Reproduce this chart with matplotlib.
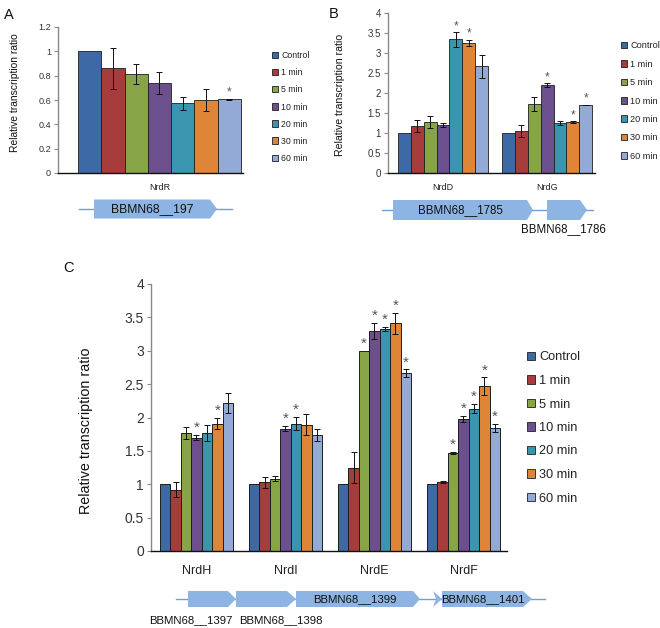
import numpy as np
import matplotlib
matplotlib.use("Agg")
import matplotlib.pyplot as plt
from matplotlib.patches import Polygon
from matplotlib.ticker import FuncFormatter

plt.rcParams['font.family'] = ['Liberation Sans', 'DejaVu Sans']

# ---------------- data ----------------
conditions = ['Control', '1 min', '5 min', '10 min', '20 min', '30 min', '60 min']
colors = ['#3d6aa5', '#a63c3b', '#87a447', '#6c4f8d', '#3a96ae', '#de8537', '#94aad6']

a_genes = ['NrdR']
a_vals = [[1.00, 0.86, 0.815, 0.74, 0.572, 0.598, 0.605]]
a_errs = [[0.00, 0.17, 0.085, 0.09, 0.053, 0.09, 0.005]]
a_sig = [[0, 0, 0, 0, 0, 0, 1]]
a_yticks = [0, 0.2, 0.4, 0.6, 0.8, 1.0, 1.2]

b_genes = ['NrdD', 'NrdG']
b_vals = [[1.00, 1.17, 1.27, 1.20, 3.34, 3.25, 2.67],
          [1.00, 1.05, 1.73, 2.19, 1.24, 1.27, 1.70]]
b_errs = [[0.00, 0.15, 0.15, 0.05, 0.18, 0.08, 0.29],
          [0.00, 0.15, 0.18, 0.05, 0.05, 0.02, 0.01]]
b_sig = [[0, 0, 0, 0, 1, 1, 0],
         [0, 0, 0, 1, 0, 1, 1]]
b_yticks = [0, 0.5, 1, 1.5, 2, 2.5, 3, 3.5, 4]

c_genes = ['NrdH', 'NrdI', 'NrdE', 'NrdF']
c_vals = [[1.00, 0.92, 1.77, 1.70, 1.77, 1.91, 2.21],
          [1.00, 1.03, 1.085, 1.835, 1.91, 1.895, 1.735],
          [1.00, 1.25, 3.00, 3.295, 3.325, 3.41, 2.66],
          [1.00, 1.035, 1.47, 1.98, 2.13, 2.47, 1.84]]
c_errs = [[0.00, 0.11, 0.09, 0.04, 0.12, 0.08, 0.15],
          [0.00, 0.08, 0.04, 0.04, 0.10, 0.15, 0.09],
          [0.00, 0.23, 0.00, 0.12, 0.03, 0.16, 0.06],
          [0.00, 0.01, 0.01, 0.04, 0.07, 0.13, 0.06]]
c_sig = [[0, 0, 0, 1, 0, 1, 0],
         [0, 0, 0, 1, 1, 0, 0],
         [0, 0, 1, 1, 1, 1, 1],
         [0, 0, 1, 1, 1, 1, 1]]
c_yticks = [0, 0.5, 1, 1.5, 2, 2.5, 3, 3.5, 4]

# gene maps (pixel layout of the operon diagrams): (start, body_end, tip, label)
a_operon = [(94, 210, 217, 'BBMN68__197')]
b_operon = [(393, 527, 533, 'BBMN68__1785'), (547, 580, 587, '')]
c_operon = [(188, 228, 236, ''), (236, 287, 296, ''), (296, 413, 420, 'BBMN68__1399'),
            (433, 433, 442, ''), (442, 523, 532, 'BBMN68__1401')]

W, H = 660, 628
fig = plt.figure(figsize=(W / 100, H / 100), dpi=100)


def add_ax(l, t, r, b):
    return fig.add_axes([l / W, 1 - b / H, (r - l) / W, (b - t) / H])


def fx(x):
    return x / W


def fy(y):
    return 1 - y / H


def draw_panel(ax, genes, vals, errs, sig, bw, yticks, tick_fs, cat_fs, cat_pad,
               star_fs, cap, lw):
    vals = np.array(vals)
    errs = np.array(errs)
    sig = np.array(sig)
    xs = np.arange(len(genes))
    for j, cond in enumerate(conditions):
        x = xs + (j - 3) * bw
        e = np.where(errs[:, j] > 0, errs[:, j], np.nan)
        ax.bar(x, vals[:, j], bw, color=colors[j], edgecolor='#1e1e1e', linewidth=lw,
               label=cond, zorder=2)
        ax.errorbar(x, vals[:, j], yerr=e, fmt='none', ecolor='#111111',
                    elinewidth=0.7, capsize=cap, capthick=0.7, zorder=3)
        for i in range(len(genes)):
            if sig[i, j]:
                top = vals[i, j] + errs[i, j]
                ax.annotate('*', (x[i], top), xytext=(0, 0.0), textcoords='offset points',
                            ha='center', va='bottom', fontsize=star_fs, color='#555555')
    ax.set_ylim(yticks[0], yticks[-1])
    ax.set_yticks(yticks)
    ax.yaxis.set_major_formatter(FuncFormatter(lambda v, p: f'{v:g}'))
    ax.set_xticks(xs)
    ax.set_xticklabels(genes, fontsize=cat_fs, color='#222222')
    ax.tick_params(axis='x', length=0, pad=cat_pad)
    ax.tick_params(axis='y', labelsize=tick_fs, colors='#333333', length=3, width=0.8,
                   direction='out', pad=2)
    ax.tick_params(axis='y', color='#888888')
    for s in ['top', 'right']:
        ax.spines[s].set_visible(False)
    ax.spines['left'].set_color('#888888')
    ax.spines['left'].set_linewidth(1.0)
    ax.spines['bottom'].set_color('#111111')
    ax.spines['bottom'].set_linewidth(1.0)
    ax.set_facecolor('none')


def add_legend(ax, x, ycen, fs, spacing, hsize, tpad):
    ax.legend(loc='center left', bbox_to_anchor=(fx(x), fy(ycen)), bbox_transform=fig.transFigure,
              frameon=False, fontsize=fs, labelspacing=spacing, handlelength=hsize,
              handleheight=hsize, handletextpad=tpad, borderpad=0, borderaxespad=0,
              labelcolor='#222222')
    for p in ax.get_legend().get_patches():
        p.set_linewidth(0.6)


# ---------- Panel A ----------
axA = add_ax(58, 27, 243, 173)
bwA = 1 / 7
draw_panel(axA, a_genes, a_vals, a_errs, a_sig, bwA, a_yticks, 6.6, 6.5, 7,
           8.5, 2, 0.6)
axA.set_xlim(-0.5 - 20 / 163, 0.5 + 2 / 163)
axA.set_ylabel('Relative transcription ratio', fontsize=7.4, color='#111111')
axA.yaxis.set_label_coords(fx(20), fy(93), transform=fig.transFigure)
add_legend(axA, 272, 107, 6.3, 0.92, 0.7, 0.35)

# ---------- Panel B ----------
axB = add_ax(388, 13, 595, 173)
bwB = 0.1236
draw_panel(axB, b_genes, b_vals, b_errs, b_sig, bwB, b_yticks, 7.0, 6.5, 7,
           8.5, 2, 0.6)
axB.set_xlim(-0.529, 1.46)
axB.set_ylabel('Relative transcription ratio', fontsize=7.6, color='#111111')
axB.yaxis.set_label_coords(fx(345), fy(95), transform=fig.transFigure)
add_legend(axB, 621, 101, 6.6, 1.02, 0.7, 0.3)

# ---------- Panel C ----------
axC = add_ax(151, 284, 507, 551)
bwC = 0.117
draw_panel(axC, c_genes, c_vals, c_errs, c_sig, bwC, c_yticks, 10, 9, 10,
           11, 2.5, 0.7)
axC.set_xlim(-0.511, 3.489)
axC.set_ylabel('Relative transcription ratio', fontsize=10.3, color='#111111')
axC.yaxis.set_label_coords(fx(93), fy(431), transform=fig.transFigure)
add_legend(axC, 527, 428, 9.2, 0.9, 0.65, 0.3)

# ---------- panel letters ----------
for lab, x, y in [('A', 9, 15), ('B', 334, 14), ('C', 69, 268)]:
    fig.text(fx(x), fy(y), lab, fontsize=10.5, ha='center', va='center', color='#111111')

# ---------- operon diagrams ----------
ov = fig.add_axes([0, 0, 1, 1], zorder=-1)
ov.set_xlim(0, W)
ov.set_ylim(H, 0)
ov.axis('off')
gene_face = '#8db4e2'
line_col = '#6d9fd9'


def draw_operon(ov, genes, yc, h, x0, x1, fs):
    ov.plot([x0, x1], [yc, yc], color=line_col, lw=1.0, zorder=1)
    for (s, be, tip, lab) in genes:
        pts = [(s, yc - h / 2), (be, yc - h / 2), (tip, yc), (be, yc + h / 2), (s, yc + h / 2)]
        if be == s:
            pts = [(s, yc - h / 2), (tip, yc), (s, yc + h / 2), (s + 3, yc)]
        ov.add_patch(Polygon(pts, closed=True, facecolor=gene_face, edgecolor='none', zorder=2))
        if lab:
            ov.text((s + be) / 2, yc + 0.5, lab, fontsize=fs, ha='center', va='center',
                    color='#111111', zorder=3)


draw_operon(ov, a_operon, 209, 19, 79, 232, 8.7)
draw_operon(ov, b_operon, 210, 20, 382, 593, 8.3)
ov.text(563, 229, 'BBMN68__1786', fontsize=8.3, ha='center', va='center', color='#111111')
draw_operon(ov, c_operon, 599, 16, 176, 545, 8.2)
ov.text(191, 620, 'BBMN68__1397', fontsize=8.2, ha='center', va='center', color='#111111')
ov.text(281, 620, 'BBMN68__1398', fontsize=8.2, ha='center', va='center', color='#111111')

fig.savefig('out.png', dpi=100, facecolor='white')
